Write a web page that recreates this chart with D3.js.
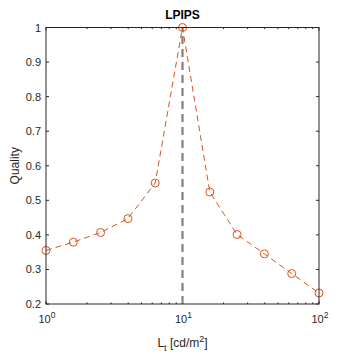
<!DOCTYPE html>
<html lang="en">
<head>
<meta charset="utf-8">
<title>LPIPS</title>
<script src="https://d3js.org/d3.v7.min.js"></script>
<style>
  body { margin: 0; background: #fff; }
  svg text { font-family: "Liberation Sans", Arial, sans-serif; fill: #262626; }
</style>
</head>
<body>
<script>
// data
const luminance = [1, 1.585, 2.512, 3.981, 6.31, 10, 15.85, 25.12, 39.81, 63.1, 100];
const quality = [0.355, 0.379, 0.407, 0.447, 0.55, 1.0, 0.524, 0.401, 0.345, 0.288, 0.232];
const refLum = 10;
const yTicks = [0.2, 0.3, 0.4, 0.5, 0.6, 0.7, 0.8, 0.9, 1];
const xTicks = [1, 10, 100];
const xExp = ["0", "1", "2"];

const w = 354, h = 354;
const m = {left: 46, right: 319, top: 27.5, bottom: 304};

const svg = d3.select("body").append("svg")
  .attr("width", w).attr("height", h);

const x = d3.scaleLog().domain([1, 100]).range([m.left, m.right]);
const y = d3.scaleLinear().domain([0.2, 1]).range([m.bottom, m.top]);

// minor log ticks
let minor = [];
for (let d = 1; d < 100; d *= 10) {
  for (let k = 2; k <= 9; k++) minor.push(d * k);
}

const g = svg.append("g").attr("stroke", "#262626").attr("stroke-width", 1);

// major / minor ticks on bottom and top
xTicks.forEach(t => {
  g.append("line").attr("x1", x(t)).attr("x2", x(t)).attr("y1", m.bottom).attr("y2", m.bottom - 3);
  g.append("line").attr("x1", x(t)).attr("x2", x(t)).attr("y1", m.top).attr("y2", m.top + 3);
});
minor.forEach(t => {
  g.append("line").attr("x1", x(t)).attr("x2", x(t)).attr("y1", m.bottom).attr("y2", m.bottom - 1.6);
  g.append("line").attr("x1", x(t)).attr("x2", x(t)).attr("y1", m.top).attr("y2", m.top + 1.6);
});
yTicks.forEach(t => {
  g.append("line").attr("x1", m.left).attr("x2", m.left + 3).attr("y1", y(t)).attr("y2", y(t));
  g.append("line").attr("x1", m.right).attr("x2", m.right - 3).attr("y1", y(t)).attr("y2", y(t));
});

// reference line
svg.append("line")
  .attr("x1", x(refLum)).attr("x2", x(refLum))
  .attr("y1", y(0.2)).attr("y2", y(1))
  .attr("stroke", "#808080").attr("stroke-width", 2.2)
  .attr("stroke-dasharray", "8,5");

// data line
const line = d3.line().x((d, i) => x(luminance[i])).y(d => y(d));
svg.append("path")
  .datum(quality)
  .attr("d", line)
  .attr("fill", "none")
  .attr("stroke", "#D95319")
  .attr("stroke-width", 1)
  .attr("stroke-dasharray", "6,4");

svg.selectAll("circle.pt")
  .data(quality)
  .enter()
  .append("circle")
  .attr("class", "pt")
  .attr("cx", (d, i) => x(luminance[i]))
  .attr("cy", d => y(d))
  .attr("r", 4)
  .attr("fill", "none")
  .attr("stroke", "#D95319")
  .attr("stroke-width", 1);

// box
svg.append("rect")
  .attr("x", m.left).attr("y", m.top)
  .attr("width", m.right - m.left).attr("height", m.bottom - m.top)
  .attr("fill", "none").attr("stroke", "#262626").attr("stroke-width", 1);

// y tick labels
svg.selectAll("text.yt")
  .data(yTicks)
  .enter()
  .append("text")
  .attr("class", "yt")
  .attr("x", m.left - 5)
  .attr("y", d => y(d) + 4)
  .attr("text-anchor", "end")
  .attr("font-size", "11px")
  .text(d => d === 1 ? "1" : d.toFixed(1));

// x tick labels
xTicks.forEach((t, i) => {
  const tx = svg.append("text")
    .attr("x", x(t) + 1)
    .attr("y", 323)
    .attr("text-anchor", "middle")
    .attr("font-size", "11px");
  tx.append("tspan").text("10");
  tx.append("tspan").attr("dy", -5).attr("font-size", "8.5px").text(xExp[i]);
});

// title
svg.append("text")
  .attr("x", (m.left + m.right) / 2)
  .attr("y", 19)
  .attr("text-anchor", "middle")
  .attr("font-size", "12px")
  .attr("font-weight", "bold")
  .attr("fill", "#000")
  .style("fill", "#000")
  .text("LPIPS");

// x label
const xl = svg.append("text")
  .attr("x", (m.left + m.right) / 2)
  .attr("y", 347)
  .attr("text-anchor", "middle")
  .attr("font-size", "12px");
xl.append("tspan").text("L");
xl.append("tspan").attr("dy", 4).attr("font-size", "9px").text("t");
xl.append("tspan").attr("dy", -4).text(" [cd/m");
xl.append("tspan").attr("dy", -5).attr("font-size", "9px").text("2");
xl.append("tspan").attr("dy", 5).text("]");

// y label
svg.append("text")
  .attr("transform", "translate(19," + ((m.top + m.bottom) / 2) + ") rotate(-90)")
  .attr("text-anchor", "middle")
  .attr("font-size", "12px")
  .text("Quality");
</script>
</body>
</html>
